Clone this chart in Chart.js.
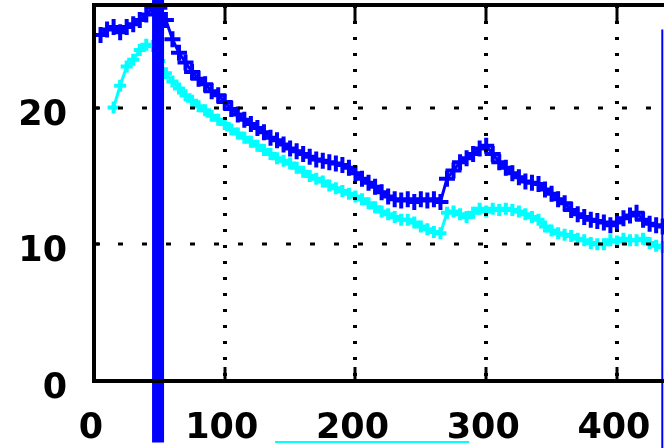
<!DOCTYPE html>
<html>
<head>
<meta charset="utf-8">
<script src="https://cdn.jsdelivr.net/npm/chart.js@4/dist/chart.umd.min.js"></script>
<style>
  html, body { margin: 0; padding: 0; background: #fff; overflow: hidden; }
  #wrap { width: 664px; height: 448px; }
</style>
</head>
<body>
<div id="wrap"><canvas id="chart" width="664" height="448"></canvas></div>
<script>
// x positions of the samples
const xValues = [
  5, 10, 15, 20, 25, 30, 35, 40, 45, 50, 55, 60, 65, 70, 75, 80, 85, 90, 95, 100,
  105, 110, 115, 120, 125, 130, 135, 140, 145, 150, 155, 160, 165, 170, 175, 180, 185, 190, 195, 200,
  205, 210, 215, 220, 225, 230, 235, 240, 245, 250, 255, 260, 265, 270, 275, 280, 285, 290, 295, 300,
  305, 310, 315, 320, 325, 330, 335, 340, 345, 350, 355, 360, 365, 370, 375, 380, 385, 390, 395, 400,
  405, 410, 415, 420, 425, 430, 435
];

// dark blue series
const blueSeries = [
  25.3, 25.7, 25.9, 25.5, 25.9, 26.1, 26.4, 26.8, 27.3, 27.3, 26.4, 25.0, 24.0, 23.3, 22.6, 22.1, 21.7, 21.2, 20.9, 20.4,
  19.9, 19.5, 19.1, 18.8, 18.5, 18.2, 17.8, 17.6, 17.3, 17.0, 16.8, 16.6, 16.4, 16.2, 16.1, 16.0, 15.9, 15.8, 15.6, 15.2,
  14.8, 14.5, 14.2, 13.8, 13.5, 13.3, 13.2, 13.3, 13.1, 13.3, 13.2, 13.3, 13.1, 14.8, 15.4, 16.0, 16.3, 16.6, 17.0, 17.2,
  16.6, 16.0, 15.6, 15.2, 14.9, 14.6, 14.5, 14.4, 14.0, 13.7, 13.3, 13.0, 12.5, 12.2, 12.0, 11.8, 11.7, 11.6, 11.4, 11.6,
  11.9, 12.1, 12.3, 11.8, 11.5, 11.4, 11.3
];

// cyan series
const cyanSeries = [
  null, null, 20.0, 21.6, 23.0, 23.5, 24.2, 24.6, 24.5, 23.4, 22.5, 21.9, 21.4, 20.9, 20.5, 20.1, 19.8, 19.4, 19.1, 18.8,
  18.4, 18.1, 17.8, 17.5, 17.2, 16.9, 16.6, 16.3, 16.1, 15.9, 15.6, 15.3, 15.0, 14.8, 14.6, 14.3, 14.1, 13.9, 13.7, 13.5,
  13.3, 13.0, 12.7, 12.4, 12.2, 12.0, 11.8, 11.8, 11.6, 11.3, 11.1, 10.9, 10.8, 12.3, 12.4, 12.2, 12.0, 12.3, 12.6, 12.4,
  12.6, 12.5, 12.6, 12.5, 12.4, 12.2, 12.0, 11.8, 11.3, 11.0, 10.8, 10.7, 10.6, 10.4, 10.3, 10.1, 10.0, 10.0, 10.3, 10.2,
  10.4, 10.3, 10.3, 10.4, 10.1, 9.9, 9.8
];

const xTicks = [0, 100, 200, 300, 400];
const yTicks = [0, 10, 20];
const xRange = [0, 436];
const yRange = [0, 27.5];

// stray marks of the original picture: thick blue bar, thin blue edge, cyan stroke below
const barLine = [[49, 28.5], [49, -4.5]];
const edgeLine = [[434.7, 25.7], [434.7, -5]];
const bottomStroke = [[138.5, -4.47], [215, -4.47], [287, -4.47]];

function toPoints(xs, ys) {
  return xs.map((x, i) => ({ x: x, y: ys[i] }));
}
function pairs(list) {
  return list.map(p => ({ x: p[0], y: p[1] }));
}

const framePlugin = {
  id: "frame",
  afterDatasetsDraw(chart) {
    const { ctx, chartArea: a, scales } = chart;
    const sx = scales.x, sy = scales.y;
    ctx.save();
    ctx.strokeStyle = "#000";
    ctx.lineCap = "butt";

    // dotted grid
    ctx.lineWidth = 3;
    ctx.setLineDash([5, 19]);
    yTicks.forEach(v => {
      if (v === 0) return;
      const py = Math.round(sy.getPixelForValue(v));
      ctx.beginPath(); ctx.moveTo(a.left, py); ctx.lineTo(a.right, py); ctx.stroke();
    });
    ctx.lineWidth = 4;
    ctx.setLineDash([3, 13]);
    xTicks.forEach(v => {
      if (v === 0) return;
      const px = Math.round(sx.getPixelForValue(v));
      ctx.beginPath(); ctx.moveTo(px, a.top); ctx.lineTo(px, a.bottom); ctx.stroke();
    });
    ctx.setLineDash([]);

    // frame (right side is cut off)
    ctx.lineWidth = 4;
    ctx.beginPath();
    ctx.moveTo(a.right + 4, a.top);
    ctx.lineTo(a.left, a.top);
    ctx.lineTo(a.left, a.bottom);
    ctx.lineTo(a.right + 4, a.bottom);
    ctx.stroke();

    // tick marks
    ctx.lineWidth = 3;
    xTicks.forEach(v => {
      if (v === 0) return;
      const px = Math.round(sx.getPixelForValue(v));
      ctx.beginPath(); ctx.moveTo(px, a.bottom); ctx.lineTo(px, a.bottom - 14); ctx.stroke();
      ctx.beginPath(); ctx.moveTo(px, a.top); ctx.lineTo(px, a.top + 16); ctx.stroke();
    });
    yTicks.forEach(v => {
      if (v === 0) return;
      const py = Math.round(sy.getPixelForValue(v));
      ctx.beginPath(); ctx.moveTo(a.left, py); ctx.lineTo(a.left + 6, py); ctx.stroke();
    });
    ctx.restore();
  }
};

const tickFont = { family: "'DejaVu Sans', sans-serif", size: 35, weight: "bold" };

function noPadding(scale) {
  scale.paddingTop = 0;
  scale.paddingBottom = 0;
  scale.paddingLeft = 0;
  scale.paddingRight = 0;
}

new Chart(document.getElementById("chart").getContext("2d"), {
  type: "line",
  data: {
    datasets: [
      {
        data: pairs(barLine),
        borderColor: "#0000ff",
        borderWidth: 12,
        pointRadius: 0,
        clip: false,
        order: 0
      },
      {
        data: pairs(edgeLine),
        borderColor: "#0000ff",
        borderWidth: 2,
        pointRadius: 0,
        clip: false,
        order: 0
      },
      {
        data: pairs(bottomStroke),
        borderColor: "#00ffff",
        backgroundColor: "#00ffff",
        borderWidth: 2,
        pointStyle: "triangle",
        pointRadius: [0, 4, 0],
        clip: false,
        order: 0
      },
      {
        data: toPoints(xValues, blueSeries),
        borderColor: "#0000ff",
        backgroundColor: "#0000ff",
        borderWidth: 3,
        pointStyle: "cross",
        pointRadius: 8,
        pointBorderWidth: 4,
        order: 1
      },
      {
        data: toPoints(xValues, cyanSeries),
        borderColor: "#00ffff",
        backgroundColor: "#00ffff",
        borderWidth: 3,
        pointStyle: "cross",
        pointRadius: 6,
        pointBorderWidth: 4,
        order: 2
      }
    ]
  },
  options: {
    responsive: false,
    animation: false,
    devicePixelRatio: 1,
    layout: { autoPadding: false, padding: { top: 5, left: 0, right: 0, bottom: 0 } },
    elements: { line: { tension: 0 } },
    plugins: { legend: { display: false }, tooltip: { enabled: false } },
    scales: {
      x: {
        type: "linear",
        min: xRange[0],
        max: xRange[1],
        afterFit(scale) { scale.height = 67; noPadding(scale); },
        afterBuildTicks(scale) { scale.ticks = xTicks.map(v => ({ value: v })); },
        grid: { display: false, drawTicks: false },
        border: { display: false },
        ticks: { color: "#000", font: tickFont, padding: 27, labelOffset: -3, maxRotation: 0 }
      },
      y: {
        type: "linear",
        min: yRange[0],
        max: yRange[1],
        afterFit(scale) { scale.width = 94; noPadding(scale); },
        afterBuildTicks(scale) { scale.ticks = yTicks.map(v => ({ value: v })); },
        grid: { display: false, drawTicks: false },
        border: { display: false },
        ticks: { color: "#000", font: tickFont, padding: 27, labelOffset: 8 }
      }
    }
  },
  plugins: [framePlugin]
});
</script>
</body>
</html>
